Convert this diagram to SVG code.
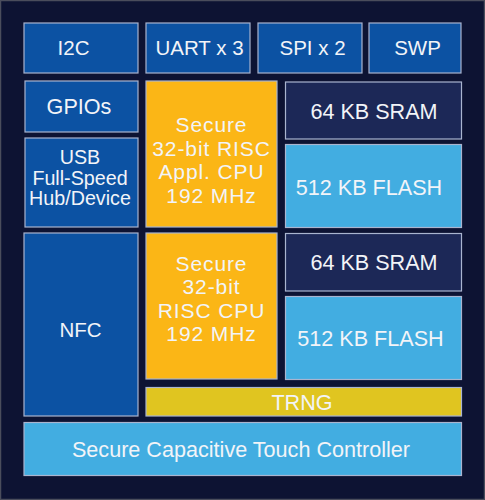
<svg xmlns="http://www.w3.org/2000/svg" width="485" height="500" viewBox="0 0 485 500">
<style>
.b{stroke:#a9b4cf;stroke-width:1.2}
.per{fill:#0c52a3}
.cpu{fill:#fbb616}
.sram{fill:#1c2857}
.flash{fill:#42ade1}
.trng{fill:#e0c520}
text{font-family:"Liberation Sans",Arial,sans-serif;font-size:21.6px;fill:#f2f4f8;text-anchor:middle}
.top{font-size:20.5px}
.usb{font-size:19.7px}
.c{font-size:21px;letter-spacing:0.9px}
</style>
<rect x="0.5" y="0.5" width="484" height="499" fill="#0d1333" stroke="#4a4d5c" stroke-width="1.5"/>
<g id="i2c"><rect class="b per" x="24" y="23" width="114" height="50"/><text class="top" x="73.5" y="55">I2C</text></g>
<g id="uart"><rect class="b per" x="146" y="23" width="104" height="50"/><text class="top" x="199.5" y="55">UART x 3</text></g>
<g id="spi"><rect class="b per" x="258" y="23" width="104" height="50"/><text class="top" x="312.5" y="55">SPI x 2</text></g>
<g id="swp"><rect class="b per" x="369" y="23" width="92" height="50"/><text class="top" x="417.5" y="55">SWP</text></g>
<g id="gpios"><rect class="b per" x="25" y="81" width="113" height="51"/><text x="79" y="114">GPIOs</text></g>
<g id="usb"><rect class="b per" x="25" y="138" width="113" height="89"/><text class="usb" x="80" y="164">USB</text><text class="usb" x="80" y="185">Full-Speed</text><text class="usb" x="80" y="205">Hub/Device</text></g>
<g id="nfc"><rect class="b per" x="24" y="233" width="114" height="183"/><text class="top" x="80.5" y="337">NFC</text></g>
<g id="cpu1"><rect class="b cpu" x="146" y="81" width="131" height="146"/><text class="c" x="211.5" y="131.5">Secure</text><text class="c" x="211.5" y="155.5">32-bit RISC</text><text class="c" x="211.5" y="178.5">Appl. CPU</text><text class="c" x="211.5" y="202.5">192 MHz</text></g>
<g id="cpu2"><rect class="b cpu" x="146" y="233" width="131" height="146"/><text class="c" x="211.5" y="270.5">Secure</text><text class="c" x="211.5" y="294">32-bit</text><text class="c" x="211.5" y="317.5">RISC CPU</text><text class="c" x="211.5" y="341">192 MHz</text></g>
<g id="sram1"><rect class="b sram" x="285.5" y="82" width="176" height="57"/><text x="374" y="119">64 KB SRAM</text></g>
<g id="flash1"><rect class="b flash" x="285.5" y="144.5" width="176" height="83"/><text x="369" y="194.5">512 KB FLASH</text></g>
<g id="sram2"><rect class="b sram" x="285.5" y="233.5" width="176" height="57.5"/><text x="374" y="269.5">64 KB SRAM</text></g>
<g id="flash2"><rect class="b flash" x="285.5" y="296.5" width="176" height="83"/><text x="370.5" y="345.5">512 KB FLASH</text></g>
<g id="trng"><rect class="b trng" x="146" y="387.5" width="315.5" height="28.5"/><text x="302" y="409.5">TRNG</text></g>
<g id="touch"><rect class="b flash" x="24" y="422.5" width="437.5" height="53"/><text x="241" y="457">Secure Capacitive Touch Controller</text></g>
<g id="connectors"></g>
</svg>
